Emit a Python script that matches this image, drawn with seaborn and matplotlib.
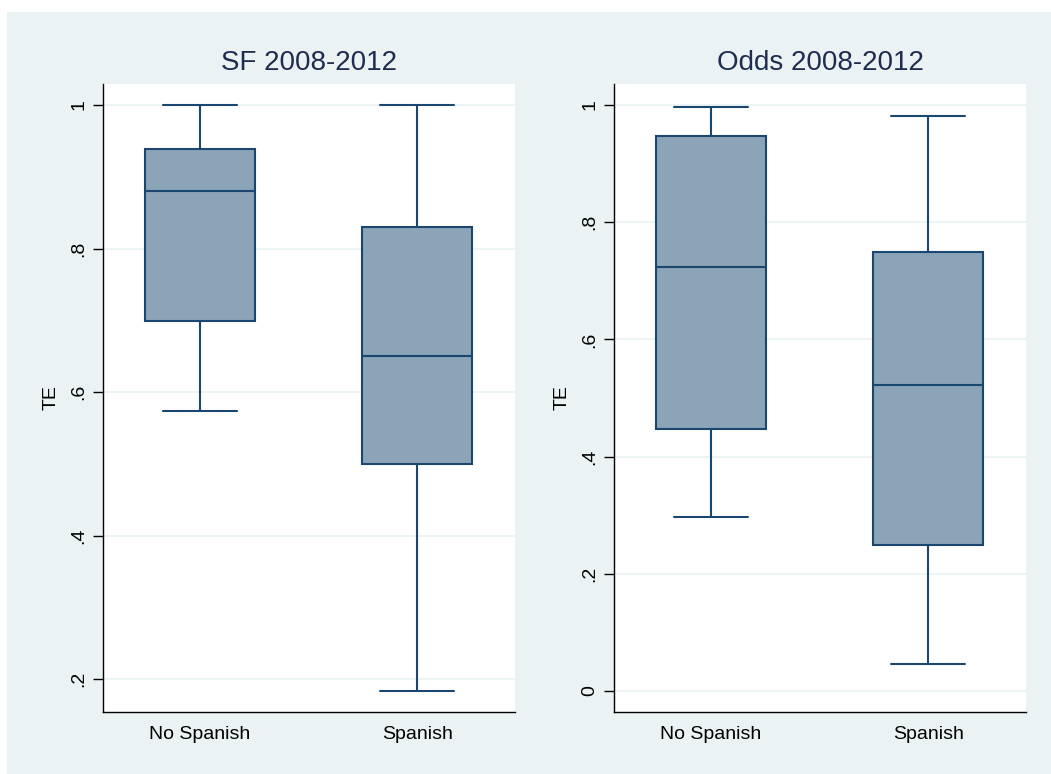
import numpy as np
import pandas as pd
import seaborn as sns
import matplotlib
matplotlib.use("Agg")
import matplotlib.pyplot as plt
from matplotlib.patches import Rectangle

# Five-number summaries (min, Q1, median, Q3, max) of technical efficiency
groups = ["No Spanish", "Spanish"]
sf_no_spanish = [0.574, 0.699, 0.880, 0.939, 1.000]
sf_spanish = [0.183, 0.500, 0.650, 0.830, 1.000]
odds_no_spanish = [0.297, 0.447, 0.724, 0.947, 0.997]
odds_spanish = [0.046, 0.249, 0.522, 0.749, 0.981]

sf_ticks = [0.2, 0.4, 0.6, 0.8, 1.0]
sf_tick_labels = [".2", ".4", ".6", ".8", "1"]
odds_ticks = [0.0, 0.2, 0.4, 0.6, 0.8, 1.0]
odds_tick_labels = ["0", ".2", ".4", ".6", ".8", "1"]

BG = "#EAF2F3"
FACE = "#8CA4B8"
EDGE = "#1A476F"
TITLE_C = "#1E2C50"
BOX_W = 0.505
CAP_W = 0.34

sns.set_style("white")
plt.rcParams["font.family"] = ["Liberation Sans", "DejaVu Sans"]


def frame(summaries):
    rows = []
    for g, vals in zip(groups, summaries):
        for v in vals:
            rows.append({"group": g, "TE": v})
    return pd.DataFrame(rows)


fig = plt.figure(figsize=(10.51, 7.74), dpi=100, facecolor="white")
W, H = 1051, 774
fig.patches.append(Rectangle((7 / W, 0), 1, 1 - 12 / H, transform=fig.transFigure,
                             facecolor=BG, edgecolor="none", zorder=-10))

panels = [
    ("SF 2008-2012", [sf_no_spanish, sf_spanish], sf_ticks, sf_tick_labels,
     (0.2 - 33 / 717.5, 1 + 21 / 717.5), 103),
    ("Odds 2008-2012", [odds_no_spanish, odds_spanish], odds_ticks, odds_tick_labels,
     (-21 / 586, 1 + 21 / 586), 614),
]

for title, summaries, ticks, labels, ylim, left_px in panels:
    ax = fig.add_axes([left_px / W, 62 / H, 412 / W, 628 / H])
    ax.set_facecolor("white")
    df = frame(summaries)
    sns.boxplot(data=df, x="group", y="TE", ax=ax, whis=(0, 100), width=BOX_W,
                color=FACE, saturation=1, linewidth=1.5, linecolor=EDGE,
                showfliers=False,
                boxprops=dict(facecolor=FACE, edgecolor=EDGE),
                whiskerprops=dict(color=EDGE),
                capprops=dict(color=EDGE),
                medianprops=dict(color=EDGE))
    # widen the whisker caps
    for line in ax.lines:
        xd = np.asarray(line.get_xdata(), dtype=float)
        if len(xd) == 2 and xd[0] != xd[1] and abs(xd[1] - xd[0]) < 0.9 * BOX_W:
            mid = (xd[0] + xd[1]) / 2
            line.set_xdata([mid - CAP_W / 2, mid + CAP_W / 2])
    ax.set_xlim(-0.445, 1.449)
    ax.set_ylim(*ylim)
    ax.set_yticks(ticks)
    ax.set_yticklabels(labels, rotation=90, va="center", fontsize=14)
    ax.set_xticks([0, 1])
    ax.set_xticklabels(groups, fontsize=14)
    ax.tick_params(axis="y", left=True, direction="out", length=7, width=1,
                   color="black", labelcolor="black", pad=4)
    ax.tick_params(axis="x", bottom=False, length=0, pad=10, labelcolor="black")
    ax.grid(axis="y", color=BG, linewidth=1.2)
    ax.set_axisbelow(True)
    for s in ["top", "right"]:
        ax.spines[s].set_visible(False)
    for s in ["left", "bottom"]:
        ax.spines[s].set_color("black")
        ax.spines[s].set_linewidth(1.0)
    ax.set_xlabel("")
    ax.set_ylabel("TE", fontsize=14, labelpad=8, color="black")
    ax.set_title(title, fontsize=20, color=TITLE_C, pad=10)

fig.savefig("out.png", dpi=100, facecolor=fig.get_facecolor())
